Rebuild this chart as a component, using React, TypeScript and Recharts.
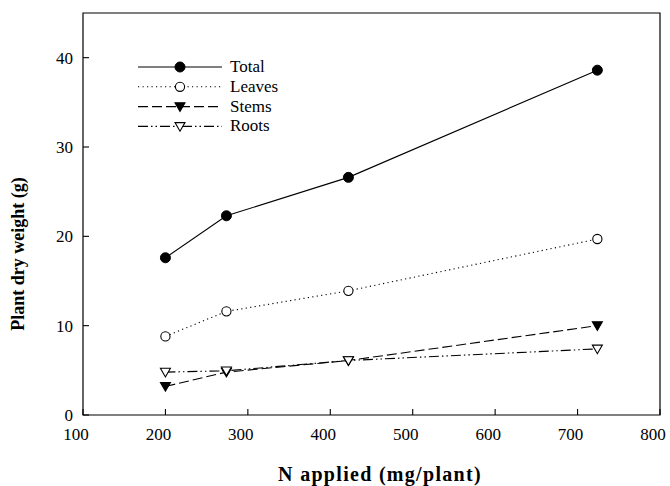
import { Legend, Line, LineChart, ReferenceArea, XAxis, YAxis } from "recharts"

const nApplied = [200, 274, 422, 724]
const total = [17.6, 22.3, 26.6, 38.6]
const leaves = [8.8, 11.6, 13.9, 19.7]
const stems = [3.2, 4.8, 6.1, 10.0]
const roots = [4.8, 4.95, 6.1, 7.4]

const xTicks = [100, 200, 300, 400, 500, 600, 700, 800]
const yTicks = [0, 10, 20, 30, 40]

const data = nApplied.map((n, i) => ({
  n,
  Total: total[i],
  Leaves: leaves[i],
  Stems: stems[i],
  Roots: roots[i],
}))

const FONT = "'Liberation Serif', 'Times New Roman', serif"

// marker kind + dash for each series
const SERIES = [
  { key: "Total", marker: "circleFilled", dash: undefined },
  { key: "Leaves", marker: "circleOpen", dash: "1.2 3.3" },
  { key: "Stems", marker: "triFilled", dash: "10 4" },
  { key: "Roots", marker: "triOpen", dash: "10 3 1.5 3 1.5 3" },
]

function Marker({ cx, cy, kind }: { cx: number; cy: number; kind: string }) {
  if (cx == null || cy == null) return null
  if (kind === "circleFilled") return <circle cx={cx} cy={cy} r={5} fill="#000" stroke="#000" />
  if (kind === "circleOpen") return <circle cx={cx} cy={cy} r={4.6} fill="#fff" stroke="#000" strokeWidth={1.1} />
  const pts = `${cx - 5},${cy - 3.8} ${cx + 5},${cy - 3.8} ${cx},${cy + 4.8}`
  return (
    <polygon
      points={pts}
      fill={kind === "triFilled" ? "#000" : "#fff"}
      stroke="#000"
      strokeWidth={1.1}
    />
  )
}

function XTick({ x, y, payload }: any) {
  return (
    <g>
      <line x1={x} x2={x} y1={y} y2={y - 6} stroke="#000" strokeWidth={1.1} />
      <text x={x - 7} y={y + 25} textAnchor="middle" fontSize={17} fontFamily={FONT} fill="#000">
        {payload.value}
      </text>
    </g>
  )
}

function YTick({ x, y, payload }: any) {
  return (
    <g>
      <line x1={x} x2={x + 6} y1={y} y2={y} stroke="#000" strokeWidth={1.1} />
      <text x={x - 10} y={y + 6} textAnchor="end" fontSize={17} fontFamily={FONT} fill="#000">
        {payload.value}
      </text>
    </g>
  )
}

function LegendBox() {
  return (
    <svg width={300} height={150} style={{ display: "block" }}>
      {SERIES.map((s, i) => {
        const ly = 67 + i * 19.8
        return (
          <g key={s.key}>
            <line x1={138} x2={222} y1={ly} y2={ly} stroke="#000" strokeWidth={1.1} strokeDasharray={s.dash} />
            <Marker cx={180} cy={ly} kind={s.marker} />
            <text x={230} y={ly + 5} fontSize={17} fontFamily={FONT} fill="#000">
              {s.key}
            </text>
          </g>
        )
      })}
    </svg>
  )
}

export default function App() {
  return (
    <div style={{ position: "absolute", left: 0, top: 0, width: 670, height: 486, background: "#fff" }}>
      <LineChart width={670} height={486} data={data} margin={{ top: 13, right: 10, bottom: 0, left: 0 }}>
        <XAxis
          dataKey="n"
          type="number"
          domain={[100, 800]}
          ticks={xTicks}
          axisLine={false}
          tickLine={false}
          tickSize={0}
          tickMargin={0}
          height={71}
          tick={<XTick />}
          interval={0}
        />
        <YAxis
          type="number"
          domain={[0, 45]}
          ticks={yTicks}
          axisLine={false}
          tickLine={false}
          tickSize={0}
          tickMargin={0}
          width={83}
          tick={<YTick />}
          interval={0}
        />
        <ReferenceArea x1={100} x2={800} y1={0} y2={45} fill="none" stroke="#000" strokeWidth={1.2} />
        {SERIES.map((s) => (
          <Line
            key={s.key}
            dataKey={s.key}
            stroke="#000"
            strokeWidth={1.1}
            strokeDasharray={s.dash}
            isAnimationActive={false}
            dot={(p: any) => <Marker key={`${s.key}-${p.index}`} cx={p.cx} cy={p.cy} kind={s.marker} />}
            activeDot={false}
          />
        ))}
        <Legend
          layout="vertical"
          align="center"
          verticalAlign="middle"
          wrapperStyle={{ left: 0, top: 0, width: 300, height: 150 }}
          content={() => <LegendBox />}
        />
        <text
          x={380}
          y={481}
          textAnchor="middle"
          fontSize={20}
          fontWeight="bold"
          letterSpacing={1.3}
          fontFamily={FONT}
          fill="#000"
        >
          N applied (mg/plant)
        </text>
        <text
          x={18}
          y={254}
          transform="rotate(-90 18 254)"
          textAnchor="middle"
          dominantBaseline="central"
          fontSize={18}
          fontWeight="bold"
          fontFamily={FONT}
          fill="#000"
        >
          Plant dry weight (g)
        </text>
      </LineChart>
    </div>
  )
}
